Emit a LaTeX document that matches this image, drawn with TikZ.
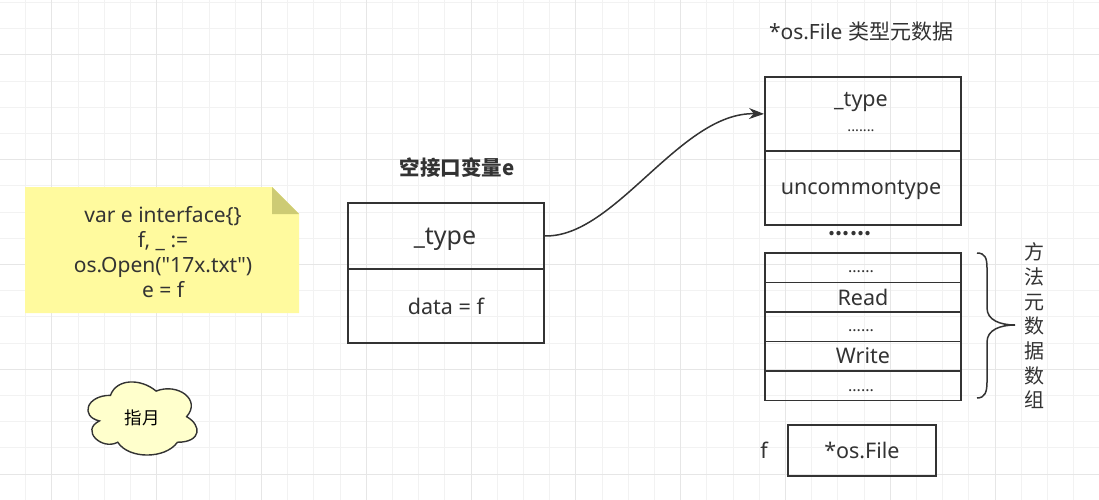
\documentclass[tikz,border=0pt]{standalone}
\usepackage{fontspec}
\setmainfont{Noto Sans}
\newfontfamily\cjk{Noto Sans CJK SC}
\usetikzlibrary{arrows.meta}
\definecolor{ink}{HTML}{333333}
\definecolor{notefill}{HTML}{FFFA9E}
\definecolor{notefold}{HTML}{CDCB74}
\definecolor{cloudfill}{HTML}{FFFFCC}
\definecolor{gridminor}{HTML}{F2F2F2}
\definecolor{gridmajor}{HTML}{E6E6E6}
\tikzset{
  cell/.style={draw=ink, line width=1.8pt, minimum width=196pt, inner sep=0pt, anchor=north west, text=ink, font=\fontsize{21.5}{24}\selectfont},
  lbl/.style={text=ink, inner sep=0pt, font=\fontsize{21.5}{24}\selectfont},
  dots/.style={text=ink, inner sep=0pt, font=\fontsize{16}{18}\selectfont},
}
\begin{document}
\begin{tikzpicture}[x=1pt,y=-1pt]
\useasboundingbox (0,0) rectangle (1099,500);
\fill[white] (0,0) rectangle (1099,500);
% grid
\foreach \i in {0,...,42} {
  \draw[gridminor, line width=1pt] ({-0.5+26.2*\i},0) -- ++(0,500);
}
\foreach \i in {0,...,19} {
  \draw[gridminor, line width=1pt] (0,{2.5+26.2*\i}) -- ++(1099,0);
}
\foreach \i in {0,...,10} {
  \draw[gridmajor, line width=1pt] ({51.9+104.8*\i},0) -- ++(0,500);
}
\foreach \i in {0,...,4} {
  \draw[gridmajor, line width=1pt] (0,{54.9+104.8*\i}) -- ++(1099,0);
}
% note
\fill[notefill] (25,187) -- (272,187) -- (299,214) -- (299,313) -- (25,313) -- cycle;
\fill[notefold] (272,187) -- (272,214) -- (299,214) -- cycle;
\node[lbl, align=center, font=\fontsize{21}{25}\selectfont] (note) at (163,252) {var e interface\{\}\\f, \_ :=\\os.Open(\textquotedbl 17x.txt\textquotedbl)\\e = f};
% cloud
\begin{scope}[shift={(80,374)}, x=121.8pt, y=-85.3pt]
\draw[ink, line width=1.4pt, fill=cloudfill] (0.25,0.25) .. controls (0.05,0.25) and (0,0.5) .. (0.16,0.55)
  .. controls (0,0.66) and (0.18,0.9) .. (0.31,0.8)
  .. controls (0.4,1) and (0.7,1) .. (0.8,0.8)
  .. controls (1,0.8) and (1,0.6) .. (0.875,0.5)
  .. controls (1,0.3) and (0.8,0.1) .. (0.625,0.2)
  .. controls (0.5,0.05) and (0.3,0.05) .. (0.25,0.25) -- cycle;
\end{scope}
\node[inner sep=0pt, font=\cjk\fontsize{17.5}{20}\selectfont, text=black] (cloud) at (142,418) {指月};
% interface variable e
\node[lbl, font=\cjk\fontsize{20.5}{22}\bfseries] (etitle) at (457,168) {空接口变量e};
\node[cell, minimum height=66pt] (etype) at (347,202) {};
\node[lbl, font=\fontsize{25}{28}\selectfont] (etypetxt) at (445,239) {\_type};
\node[cell, minimum height=74pt] (edata) at (347,268) {data = f};
% type metadata
\node[lbl, font=\fontsize{21}{24}\selectfont] (ftitle) at (861,32) {*os.File {\cjk 类型元数据}};
\node[cell, minimum height=74pt] (ftype) at (764,76) {};
\node[lbl] (ftypetxt) at (861,102) {\_type};
\node[dots, font=\fontsize{14.5}{16}\selectfont] (ftypedots) at (861,131) {.......};
\node[cell, minimum height=74pt] (unc) at (764,150) {};
\node[lbl] (unctxt) at (861,190) {uncommontype};
\node[dots, font=\cjk\fontsize{20}{22}\bfseries] (gapdots) at (850,234) {......};
% method rows
\node[cell, minimum height=29.5pt] (m1) at (764,252) {};
\node[cell, minimum height=29.5pt] (m2) at (764,281.5) {Read};
\node[cell, minimum height=29.5pt] (m3) at (764,311) {};
\node[cell, minimum height=29.5pt] (m4) at (764,340.5) {Write};
\node[cell, minimum height=29.5pt] (m5) at (764,370) {};
\node[dots] (m1d) at (861,271.5) {......};
\node[dots] (m3d) at (861,331) {......};
\node[dots] (m5d) at (861,391) {......};
% brace
\draw[ink, line width=1.5pt] (977,253) .. controls (985,253) and (987,258) .. (987,268) -- (987,308) .. controls (987,320) and (1000,325) .. (1015,325)
  .. controls (1000,325) and (987,330) .. (987,342) -- (987,382) .. controls (987,392) and (985,398) .. (977,398);
\node[lbl, align=center, font=\cjk\fontsize{20}{24.7}\selectfont] (blabel) at (1034,326) {方\\法\\元\\数\\据\\数\\组};
% file
\node[lbl] (flabel) at (764,450) {f};
\node[cell, minimum width=148pt, minimum height=51pt] (fobj) at (787,424) {*os.File};
% connector
\draw[ink, line width=1.5pt, -{Stealth[length=15pt,width=11pt]}] (etype.east) .. controls (615,238) and (680,112) .. (ftype.west);
\end{tikzpicture}
\end{document}
